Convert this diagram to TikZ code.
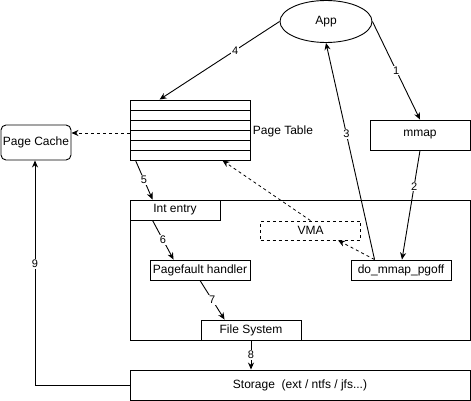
\documentclass[tikz,border=0pt]{standalone}
\usepackage{fontspec}
\setmainfont{Liberation Sans}
\usetikzlibrary{arrows.meta,shapes.geometric,calc}
\begin{document}
\begin{tikzpicture}[x=1pt,y=-1pt,
  line width=0.9pt,
  font=\fontsize{12}{14}\selectfont,
  box/.style={draw,rectangle,inner sep=0pt,anchor=center},
  arr/.style={-{Stealth[length=7pt,width=6pt,inset=2.2pt]}},
  dasharr/.style={arr,dash pattern=on 3pt off 3pt,line width=0.8pt},
  lbl/.style={fill=white,inner sep=1pt,font=\fontsize{11}{12}\selectfont}]
\useasboundingbox (0,0) rectangle (471,401);
% nodes
\node[draw,ellipse,minimum width=92pt,minimum height=42pt,inner sep=0pt] (app) at (326,21.5) {App};
\node[box,minimum width=120pt,minimum height=60pt] (pt) at (190,130) {};
\foreach \yy in {110,120,130,140,150} \draw (130,\yy) -- (250,\yy);
\node[anchor=west,inner sep=0pt] (ptl) at (252.5,131) {Page Table};
\node[box,rounded corners=5pt,minimum width=70pt,minimum height=35pt] (pc) at (36,142.5) {Page Cache};
\node[box,minimum width=100pt,minimum height=30pt] (mmap) at (420,135) {mmap};
\node[box,minimum width=340pt,minimum height=140pt] (big) at (300,270) {};
\node[box,minimum width=90pt,minimum height=20pt] (ie) at (175,210) {Int entry};
\node[box,dash pattern=on 3pt off 3pt,line width=0.8pt,minimum width=100pt,minimum height=19pt] (vma) at (310.5,230.5) {VMA};
\node[box,minimum width=100pt,minimum height=20pt] (do) at (401,270) {do\_mmap\_pgoff};
\node[box,minimum width=100pt,minimum height=20pt] (pf) at (200,270) {Pagefault handler};
\node[box,minimum width=100pt,minimum height=20pt] (fs) at (251,330) {File System};
\node[box,minimum width=340pt,minimum height=30pt] (st) at (300,385) {Storage\ \ (ext / ntfs / jfs...)};
% connectors
\draw[arr] (app.east) -- node[lbl,pos=0.5] {1} (mmap.north);
\draw[arr] (mmap.south) -- node[lbl,pos=0.33] {2} ($(do.north)+(1,0)$);
\draw[arr] ($(do.north west)+(24,0)$) -- node[lbl,pos=0.58] {3} (app.south);
\draw[arr] (app.west) -- node[lbl,pos=0.37] {4} ($(pt.north west)+(30,0)$);
\draw[dasharr] ($(pt.west)+(0,3)$) -- ($(pc.east)+(0,-9.5)$);
\draw[arr] ($(pt.south west)+(6,0)$) -- node[lbl] {5} ($(ie.north west)+(23,0)$);
\draw[arr] ($(ie.south west)+(23,0)$) -- node[lbl] {6} ($(pf.north west)+(24,0)$);
\draw[arr] (pf.south) -- node[lbl] {7} ($(fs.north west)+(24,0)$);
\draw[arr] (fs.south) -- node[lbl] {8} (st.north -| fs.south);
\draw[arr] (st.west) -| node[lbl,pos=0.77] {9} ($(pc.south)+(-1,0)$);
\draw[dasharr] ($(do.north west)+(24,0)$) -- ($(vma.south west)+(78,0)$);
\draw[dasharr] (vma.north) -- ($(pt.south east)+(-28,0)$);
\end{tikzpicture}
\end{document}
